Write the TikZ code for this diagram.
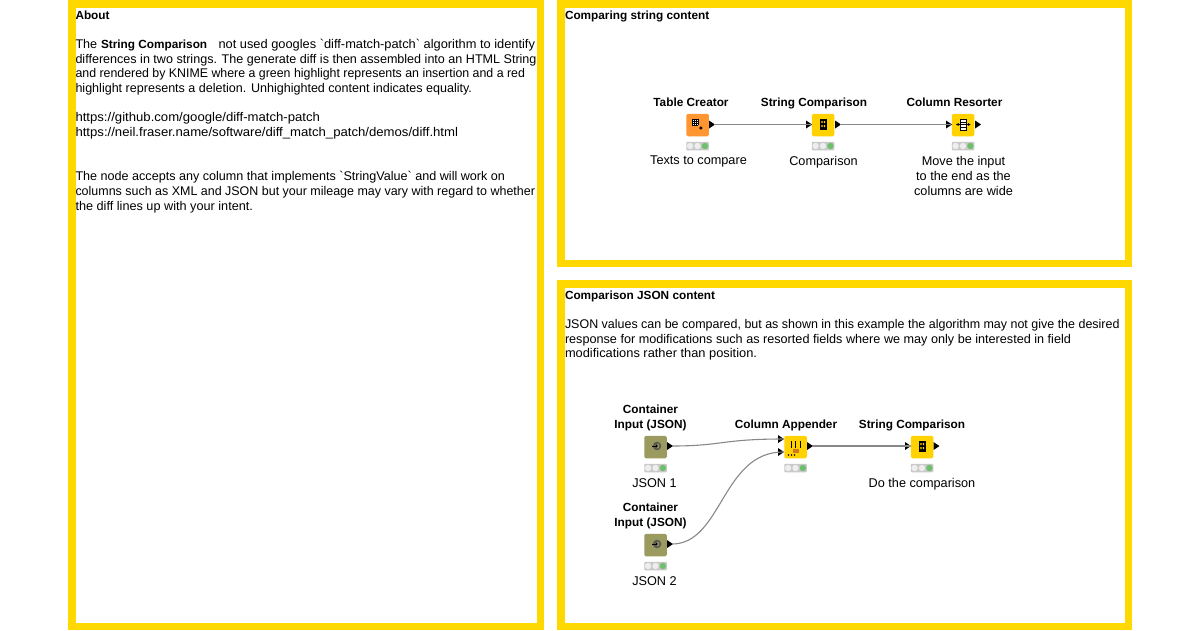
\documentclass[tikz,border=0pt]{standalone}
\usepackage{graphicx}
\usepackage{fontspec}
\setmainfont{Liberation Sans}
\newfontfamily\plainfam{Liberation Sans}
\definecolor{frameyellow}{HTML}{FFD800}
\definecolor{learner}{HTML}{FFD200}
\definecolor{source}{HTML}{FF9632}
\definecolor{jsonnode}{HTML}{9B9B5F}
\definecolor{traffic}{HTML}{C9C9C9}
\definecolor{lamp}{HTML}{EEEEEE}
\definecolor{okgreen}{HTML}{6CC06C}
\definecolor{wire}{HTML}{888888}
\tikzset{
  frame/.style={draw=frameyellow,line width=7.5pt,fill=white},
  txt/.style={anchor=base west,inner sep=0pt,outer sep=0pt,font=\fontsize{12.6}{14}\selectfont,text=black},
  headtxt/.style={txt,font=\fontsize{11.8}{14}\selectfont\bfseries},
  titletxt/.style={anchor=base,inner sep=0pt,align=center,font=\fontsize{11.8}{15}\selectfont\bfseries,text=black},
  captxt/.style={anchor=north,inner sep=0pt,align=center,font=\fontsize{12.7}{15}\selectfont,text=black},
  bodybox/.style={minimum width=22.5pt,minimum height=22.5pt,inner sep=0pt,rounded corners=1.5pt},
  statusbar/.style={fill=traffic,minimum width=22.5pt,minimum height=8.5pt,inner sep=0pt,rounded corners=.8pt},
  porttip/.style={fill=black,draw=none},
  wireline/.style={draw=wire,line width=1.1pt},
  glyph/.style={draw=black,line width=.7pt},
}
% a line of text stretched sideways to the width it has in the picture
\newcommand{\fitw}[2]{\resizebox{#1pt}{\height}{#2}}
% #1 name, #2 cx, #3 cy, #4 colour
\newcommand{\knode}[4]{%
  \node[bodybox,fill=#4] (#1) at (#2,#3) {};
  \node[statusbar] (#1s) at (#2,#3+21) {};
  \fill[lamp] (#2-7.4,#3+21) circle (3.2pt) (#2,#3+21) circle (3.2pt);
  \fill[okgreen] (#2+7.4,#3+21) circle (3.2pt);
}
% tip pointing right, base at x=#1, centred on y=#2, named #3 at its tip
\newcommand{\ktip}[3]{%
  \fill[porttip] (#1,#2-4) -- (#1+6,#2) -- (#1,#2+4) -- cycle;
  \coordinate (#3) at (#1+5,#2);
}
\begin{document}
\begin{tikzpicture}[x=1pt,y=-1pt]
\useasboundingbox (0,0) rectangle (1200,630);
\fill[white] (0,0) rectangle (1200,630);
\draw[frame] (71.75,3.75) rectangle (540.25,626.25);
\draw[frame] (560.75,3.75) rectangle (1128.25,263.25);
\draw[frame] (560.75,283.75) rectangle (1128.25,626.25);

\node[headtxt] (h1) at (75.5,19) {About};
\node[txt] (l1) at (75.5,48) {The};
\node[headtxt] (l1b) at (101,48) {String Comparison};
\node[txt] (l1c) at (218.5,48) {\fitw{316.5}{\plainfam not used googles `diff-match-patch` algorithm to identify}};
\node[txt] (l2) at (75.5,63) {\fitw{461}{differences in two strings. The generate diff is then assembled into an HTML String}};
\node[txt] (l3) at (75.5,77.5) {\fitw{449.5}{and rendered by KNIME where a green highlight represents an insertion and a red}};
\node[txt] (l4) at (75.5,92) {\fitw{396.5}{highlight represents a deletion. Unhighighted content indicates equality.}};
\node[txt] (l5) at (75.5,121.5) {\fitw{244.5}{https://github.com/google/diff-match-patch}};
\node[txt] (l6) at (75.5,136) {\fitw{382.5}{https://neil.fraser.name/software/diff\_match\_patch/demos/diff.html}};
\node[txt] (l7) at (75.5,180.5) {\fitw{429.5}{\plainfam The node accepts any column that implements `StringValue` and will work on}};
\node[txt] (l8) at (75.5,195) {\fitw{459.5}{columns such as XML and JSON but your mileage may vary with regard to whether}};
\node[txt] (l9) at (75.5,210) {\fitw{177.5}{the diff lines up with your intent.}};

\node[headtxt] (h2) at (565,19) {Comparing string content};
\node[headtxt] (h3) at (565,299) {Comparison JSON content};
\node[txt] (m1) at (565,328) {\fitw{554.5}{JSON values can be compared, but as shown in this example the algorithm may not give the desired}};
\node[txt] (m2) at (565,343) {\fitw{506}{response for modifications such as resorted fields where we may only be interested in field}};
\node[txt] (m3) at (565,357.5) {\fitw{192}{modifications rather than position.}};

% top workflow
\knode{tc}{697.5}{125}{source}
\knode{sc}{823}{125}{learner}
\knode{cr}{963}{125}{learner}
\ktip{709}{124.5}{tco}
\ktip{806}{124.5}{sci}
\ktip{835}{124.5}{sco}
\ktip{946}{124.5}{cri}
\ktip{975}{124.5}{cro}
\draw[wireline] (tco) -- (sci);
\draw[wireline] (sco) -- (cri);
\node[titletxt] (tct) at (691,106) {Table Creator};
\node[titletxt] (sct) at (814,106) {String Comparison};
\node[titletxt] (crt) at (954.5,106) {Column Resorter};
\node[captxt] (tcc) at (698.5,156) {Texts to compare};
\node[captxt] (scc) at (823.5,156) {Comparison};
\node[captxt] (crc) at (963.5,156) {Move the input\\to the end as the\\columns are wide};
% icons top
\fill[white] (692,119) rectangle (698,125);
\draw[black,line width=.55pt] (692,119) -- (698,119) (692,121) -- (698,121) (692,123) -- (698,123) (692,125) -- (698,125)
  (692,119) -- (692,125) (694,119) -- (694,125) (696,119) -- (696,125) (698,119) -- (698,125);
\fill[black] (700.8,128) circle (1.7pt);
\fill[black] (820,119) rectangle (826.5,130);
\fill[learner] (821.3,121) rectangle (822.7,123) (823.8,121) rectangle (825.2,123) (821.3,125) rectangle (822.7,127) (823.8,125) rectangle (825.2,127);
\draw[glyph,fill=white] (960.7,119) rectangle (966,130);
\draw[glyph] (957,124.5) -- (969.5,124.5) (960.7,122) -- (966,122) (960.7,127) -- (966,127);
\fill[black] (956,124.5) -- (958.5,123) -- (958.5,126) -- cycle (970.5,124.5) -- (968,123) -- (968,126) -- cycle;

% bottom workflow
\knode{ci1}{655.5}{447}{jsonnode}
\knode{ci2}{655.5}{545}{jsonnode}
\knode{ca}{795.5}{447}{learner}
\knode{sd}{922}{447}{learner}
\ktip{667}{446}{c1o}
\ktip{667}{544}{c2o}
\ktip{778}{439}{cai}
\ktip{778}{452}{caj}
\ktip{807}{446}{cao}
\ktip{905}{446}{sdi}
\ktip{933.5}{446}{sdo}
\draw[wireline] (c1o) .. controls (722,446) and (722,439) .. (cai);
\draw[wireline] (c2o) .. controls (722,544) and (722,452) .. (caj);
\draw[wireline] (cao) -- (sdi);
\node[titletxt] (c1t) at (650.5,428) {Container\\Input (JSON)};
\node[titletxt] (c2t) at (650.5,526) {Container\\Input (JSON)};
\node[titletxt] (cat) at (786,428) {Column Appender};
\node[titletxt] (sdt) at (912,428) {String Comparison};
\node[captxt] (c1c) at (654.5,478) {JSON 1};
\node[captxt] (c2c) at (654.5,576) {JSON 2};
\node[captxt] (sdc) at (922,478) {Do the comparison};
% icons bottom
\foreach \cy in {446,544}{
  \draw[black!65,line width=1.6pt] (657,\cy) circle (3.4pt);
  \fill[black] (651.5,\cy-.5) rectangle (656,\cy+.5);
  \fill[black] (658,\cy) -- (655.5,\cy-2.2) -- (655.5,\cy+2.2) -- cycle;
}
\draw[black,line width=.9pt] (791,441) -- (791,448) (795.5,441) -- (795.5,448) (800,441) -- (800,448);
\fill[source!80!black] (792.5,448.5) rectangle (798.5,453);
\fill[black] (788.5,455) circle (.8pt) (791.5,455) circle (.8pt) (794.5,455) circle (.8pt);
\fill[black] (919,441) rectangle (925.5,452);
\fill[learner] (920.3,443) rectangle (921.7,445) (922.8,443) rectangle (924.2,445) (920.3,447) rectangle (921.7,449) (922.8,447) rectangle (924.2,449);
\end{tikzpicture}
\end{document}
